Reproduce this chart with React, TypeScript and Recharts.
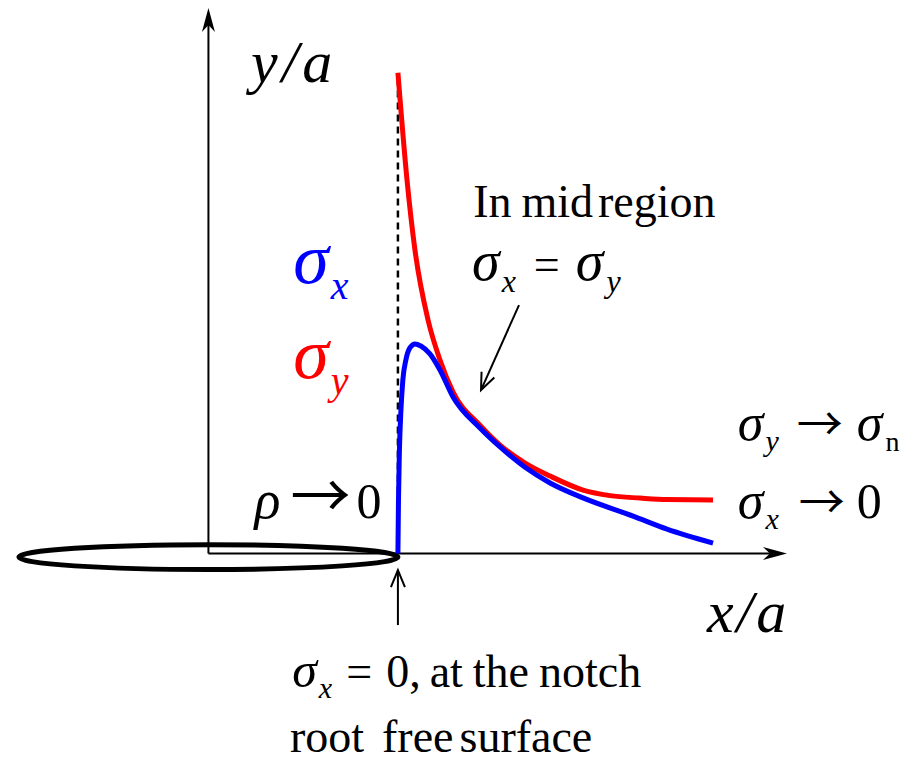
import { ComposedChart, Line, XAxis, YAxis, ReferenceLine, ReferenceArea, ReferenceDot } from "recharts";

// Stress distribution ahead of a sharp notch (rho -> 0).
// x is distance from the crack centre in units of a, the notch root sits at x/a = 1.
// Stresses are in the same normalised units as the vertical axis.

// sigma_y: singular at the root, decays to the nominal stress far away
const sigmaYPos = [1.0, 1.048, 1.09, 1.159, 1.222, 1.291, 1.433, 1.539, 1.671, 1.803, 1.977, 2.119, 2.278, 2.42, 2.663];
const sigmaYVal = [2.51, 1.95, 1.584, 1.219, 1.01, 0.843, 0.67, 0.566, 0.472, 0.404, 0.331, 0.302, 0.289, 0.281, 0.279];

// sigma_x: zero on the free surface, peaks just inside, then falls towards zero
const sigmaXPos = [1.0, 1.003, 1.008, 1.016, 1.026, 1.042, 1.063, 1.09, 1.121, 1.169, 1.222, 1.291, 1.433, 1.539, 1.671, 1.803, 1.977, 2.241, 2.42, 2.663];
const sigmaXVal = [0.0, 0.279, 0.54, 0.749, 0.906, 1.01, 1.073, 1.094, 1.083, 1.042, 0.958, 0.817, 0.655, 0.556, 0.45, 0.368, 0.29, 0.195, 0.127, 0.054];

// vertical guide at the notch root
const rootPos = [1.0, 1.0];
const rootVal = [0.0, 2.5];

const AXIS_X_END = 3.053;
const AXIS_Y_END = 2.848;

// crack drawn as a flat ellipse of half length a
const CRACK_HALF_LENGTH = 1.0;
const CRACK_HALF_HEIGHT = 0.065;
const CRACK_CENTRE_Y = -0.019;

const sigmaYData = sigmaYPos.map((x, i) => ({ x, y: sigmaYVal[i] }));
const sigmaXData = sigmaXPos.map((x, i) => ({ x, y: sigmaXVal[i] }));
const rootData = rootPos.map((x, i) => ({ x, y: rootVal[i] }));

const SERIF = "Liberation Serif";
const ARROW_FONT = "Noto Sans CJK JP";
const RED = "#ff0000";
const BLUE = "#0000ff";

const TXT = 46;

// line with an arrow head at (x2, y2); "solid" is the barbed axis head, "open" a plain V
function arrow(kind: "solid" | "open") {
  return (props: any) => {
    const { x1, y1, x2, y2 } = props;
    const a = Math.atan2(y2 - y1, x2 - x1);
    const c = Math.cos(a);
    const s = Math.sin(a);
    if (kind === "solid") {
      const L = 24;
      const W = 6.5;
      const N = 7;
      const bx = x2 - L * c;
      const by = y2 - L * s;
      const nx = x2 - (L - N) * c;
      const ny = y2 - (L - N) * s;
      const pts = [
        [x2, y2],
        [bx - W * s, by + W * c],
        [nx, ny],
        [bx + W * s, by - W * c],
      ]
        .map((p) => p.join(","))
        .join(" ");
      return (
        <g>
          <line x1={x1} y1={y1} x2={nx} y2={ny} stroke="#000" strokeWidth={2} />
          <polygon points={pts} fill="#000" />
        </g>
      );
    }
    const L = 17;
    const W = 7;
    const bx = x2 - L * c;
    const by = y2 - L * s;
    return (
      <g fill="none" stroke="#000" strokeWidth={2}>
        <line x1={x1} y1={y1} x2={x2} y2={y2} />
        <polyline points={`${bx - W * s},${by + W * c} ${x2},${y2} ${bx + W * s},${by - W * c}`} />
      </g>
    );
  };
}

function crackShape(props: any) {
  const { x, y, width, height } = props;
  return (
    <ellipse cx={x + width / 2} cy={y + height / 2} rx={width / 2} ry={height / 2} fill="none" stroke="#000" strokeWidth={5} />
  );
}

// text anchored at a data point, left/baseline
function textAt(content: React.ReactNode, fill = "#000") {
  return (props: any) => (
    <text x={props.cx} y={props.cy} fill={fill} style={{ fontFamily: SERIF }}>
      {content}
    </text>
  );
}

const Sigma = ({ sub, size, subSize, upright }: { sub: string; size: number; subSize: number; upright?: boolean }) => (
  <>
    <tspan fontStyle="italic" fontSize={size}>σ</tspan>
    <tspan fontStyle={upright ? "normal" : "italic"} fontSize={subSize} dx={2} dy={Math.round(size * 0.22)}>
      {sub}
    </tspan>
  </>
);

const Arrow = ({ size, dx, dy }: { size: number; dx: number; dy?: number }) => (
  <tspan style={{ fontFamily: ARROW_FONT }} fontSize={size} dx={dx} dy={dy}>
    →
  </tspan>
);

export default function App() {
  return (
    <div style={{ position: "absolute", left: 0, top: 0, width: 919, height: 766, background: "#fff", fontFamily: SERIF }}>
      <ComposedChart width={919} height={766} margin={{ top: 0, right: 0, bottom: 0, left: 0 }}>
        <XAxis type="number" dataKey="x" domain={[-1.1, 3.75]} hide allowDataOverflow />
        <YAxis type="number" dataKey="y" domain={[-1.11, 2.89]} hide allowDataOverflow />

        <ReferenceArea
          x1={-CRACK_HALF_LENGTH}
          x2={CRACK_HALF_LENGTH}
          y1={CRACK_CENTRE_Y - CRACK_HALF_HEIGHT}
          y2={CRACK_CENTRE_Y + CRACK_HALF_HEIGHT}
          shape={crackShape}
        />

        {/* coordinate axes */}
        <ReferenceLine segment={[{ x: 0, y: 0 }, { x: AXIS_X_END, y: 0 }]} shape={arrow("solid")} />
        <ReferenceLine segment={[{ x: 0, y: 0 }, { x: 0, y: AXIS_Y_END }]} shape={arrow("solid")} />

        {/* pointers */}
        <ReferenceLine segment={[{ x: 1.639, y: 1.297 }, { x: 1.4385, y: 0.853 }]} shape={arrow("open")} />
        <ReferenceLine segment={[{ x: 1.0, y: -0.374 }, { x: 1.0, y: -0.087 }]} shape={arrow("open")} />

        <Line data={rootData} dataKey="y" type="linear" stroke="#000" strokeWidth={2.5} strokeDasharray="7 5" dot={false} activeDot={false} isAnimationActive={false} />
        <Line data={sigmaYData} dataKey="y" type="monotone" stroke={RED} strokeWidth={5} strokeLinecap="butt" dot={false} activeDot={false} isAnimationActive={false} />
        <Line data={sigmaXData} dataKey="y" type="monotone" stroke={BLUE} strokeWidth={5} strokeLinecap="butt" dot={false} activeDot={false} isAnimationActive={false} />

        {/* axis titles */}
        <ReferenceDot x={0.225} y={2.462} r={0} shape={textAt(<tspan fontStyle="italic" fontSize={60} letterSpacing={4}>y/a</tspan>)} />
        <ReferenceDot x={2.631} y={-0.41} r={0} shape={textAt(<tspan fontStyle="italic" fontSize={60} letterSpacing={3}>x/a</tspan>)} />

        {/* series labels */}
        <ReferenceDot x={0.447} y={1.412} r={0} shape={textAt(<Sigma sub="x" size={72} subSize={40} />, BLUE)} />
        <ReferenceDot x={0.447} y={0.916} r={0} shape={textAt(<Sigma sub="y" size={72} subSize={40} />, RED)} />

        <ReferenceDot
          x={1.397}
          y={1.757}
          r={0}
          shape={textAt(
            <tspan fontSize={TXT}>
              In<tspan dx={10}>mid</tspan>
              <tspan dx={5}>region</tspan>
            </tspan>
          )}
        />
        <ReferenceDot
          x={1.391}
          y={1.427}
          r={0}
          shape={textAt(
            <>
              <Sigma sub="x" size={56} subSize={32} />
              <tspan fontSize={TXT} dx={18} dy={-12}>=</tspan>
              <tspan fontStyle="italic" fontSize={56} dx={16}>σ</tspan>
              <tspan fontStyle="italic" fontSize={32} dx={3} dy={12}>y</tspan>
            </>
          )}
        />

        <ReferenceDot
          x={2.794}
          y={0.592}
          r={0}
          shape={textAt(
            <>
              <Sigma sub="y" size={52} subSize={30} />
              <Arrow size={46} dx={18} dy={-11} />
              <tspan fontStyle="italic" fontSize={52} dx={14}>σ</tspan>
              <tspan fontSize={28} dx={3} dy={11}>n</tspan>
            </>
          )}
        />
        <ReferenceDot
          x={2.794}
          y={0.185}
          r={0}
          shape={textAt(
            <>
              <Sigma sub="x" size={52} subSize={30} />
              <Arrow size={46} dx={20} dy={-11} />
              <tspan fontSize={50} dx={12}>0</tspan>
            </>
          )}
        />
        <ReferenceDot
          x={0.243}
          y={0.185}
          r={0}
          shape={textAt(
            <>
              <tspan fontStyle="italic" fontSize={54}>ρ</tspan>
              <Arrow size={60} dx={10} />
              <tspan fontSize={50} dx={6}>0</tspan>
            </>
          )}
        />

        {/* notch root note */}
        <ReferenceDot
          x={0.442}
          y={-0.698}
          r={0}
          shape={textAt(
            <>
              <Sigma sub="x" size={50} subSize={30} />
              <tspan fontSize={TXT} dx={14} dy={-11}>=</tspan>
              <tspan fontSize={TXT} dx={14}>0,</tspan>
              <tspan fontSize={TXT} dx={9}>at</tspan>
              <tspan fontSize={TXT} dx={10}>the</tspan>
              <tspan fontSize={TXT} dx={10}>notch</tspan>
            </>
          )}
        />
        <ReferenceDot
          x={0.43}
          y={-1.037}
          r={0}
          shape={textAt(
            <tspan fontSize={TXT}>
              root<tspan dx={18}>free</tspan>
              <tspan dx={6}>surface</tspan>
            </tspan>
          )}
        />
      </ComposedChart>
    </div>
  );
}
